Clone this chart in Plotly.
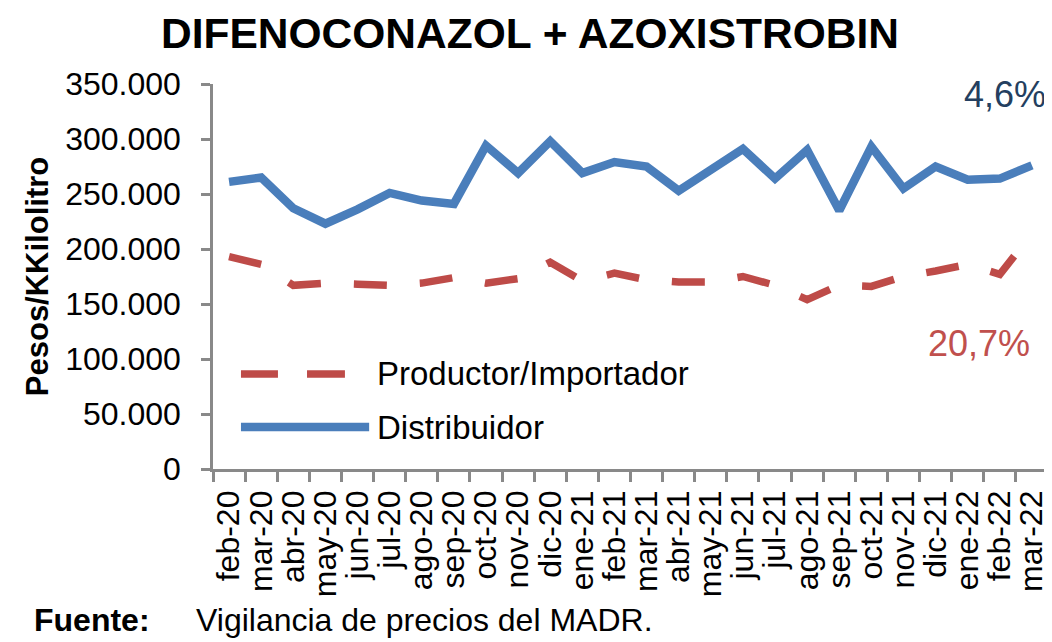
import plotly.graph_objects as go

months = ["feb-20", "mar-20", "abr-20", "may-20", "jun-20", "jul-20", "ago-20", "sep-20",
          "oct-20", "nov-20", "dic-20", "ene-21", "feb-21", "mar-21", "abr-21", "may-21",
          "jun-21", "jul-21", "ago-21", "sep-21", "oct-21", "nov-21", "dic-21", "ene-22",
          "feb-22", "mar-22"]

distribuidor = [261000, 265000, 237000, 223000, 236000, 251000, 244000, 241000,
                294000, 269000, 298000, 269000, 279000, 275000, 253000, 272000,
                291000, 264000, 290000, 235000, 293000, 255000, 275000, 263000,
                264000, 276000]

productor = [193000, 186000, 167000, 169000, 168000, 167000, 169000, 174000,
             169000, 173000, 188000, 171000, 178000, 172000, 170000, 170000,
             175000, 167000, 154000, 167000, 166000, 175000, 180000, 186000,
             177000, 214000]

y_ticks = [0, 50000, 100000, 150000, 200000, 250000, 300000, 350000]

BLUE = "#4A7EBB"
RED = "#BE4B48"
GREY = "#898989"
FONT = "Liberation Sans, Arial, sans-serif"

fig = go.Figure()
fig.add_trace(go.Scatter(x=months, y=productor, mode="lines", name="Productor/Importador",
                         line=dict(color=RED, width=7.5, dash="33px,33px"), showlegend=False))
fig.add_trace(go.Scatter(x=months, y=distribuidor, mode="lines", name="Distribuidor",
                         line=dict(color=BLUE, width=8.5), showlegend=False))

# legend drawn manually (long line samples, as in the reference)
shapes = [
    dict(type="line", xref="paper", yref="paper", x0=0.0335, x1=0.0778, y0=0.247, y1=0.247,
         line=dict(color=RED, width=7.5)),
    dict(type="line", xref="paper", yref="paper", x0=0.1126, x1=0.158, y0=0.247, y1=0.247,
         line=dict(color=RED, width=7.5)),
    dict(type="line", xref="paper", yref="paper", x0=0.0335, x1=0.187, y0=0.109, y1=0.109,
         line=dict(color=BLUE, width=8.5)),
]

annotations = [
    dict(text="Productor/Importador", xref="paper", yref="paper", x=0.194, y=0.247,
         xanchor="left", yanchor="middle", showarrow=False, font=dict(size=33, color="black")),
    dict(text="Distribuidor", xref="paper", yref="paper", x=0.194, y=0.109,
         xanchor="left", yanchor="middle", showarrow=False, font=dict(size=33, color="black")),
    dict(text="4,6%", xref="paper", yref="paper", x=1.0, y=0.974,
         xanchor="right", yanchor="middle", showarrow=False, font=dict(size=36, color="#243F60")),
    dict(text="20,7%", xref="paper", yref="paper", x=0.981, y=0.327,
         xanchor="right", yanchor="middle", showarrow=False, font=dict(size=36, color="#C0504D")),
    dict(text="<b>Fuente:</b>", xref="paper", yref="paper", x=-0.217, y=-0.392,
         xanchor="left", yanchor="middle", showarrow=False, font=dict(size=32, color="black")),
    dict(text="Vigilancia de precios del MADR.", xref="paper", yref="paper", x=-0.0228, y=-0.392,
         xanchor="left", yanchor="middle", showarrow=False, font=dict(size=32, color="black")),
]

# the page body has an 8px margin, so the figure is sized/offset to compensate
fig.update_layout(
    width=1044, height=634,
    margin=dict(l=205, r=4, t=76, b=173, autoexpand=False),
    paper_bgcolor="white", plot_bgcolor="white",
    font=dict(family=FONT, size=32, color="black"),
    separators=",.",
    title=dict(text="<b>DIFENOCONAZOL + AZOXISTROBIN</b>", x=0.5, xanchor="center",
               y=0.961, yanchor="middle", font=dict(size=42.5, color="black"), automargin=False),
    shapes=shapes,
    annotations=annotations,
    showlegend=False,
)

fig.update_xaxes(
    type="category", categoryorder="array", categoryarray=months,
    range=[-0.5, len(months) - 0.5], automargin=False,
    tickmode="array", tickvals=months, ticktext=months,
    showline=True, linecolor=GREY, linewidth=2.5,
    ticks="outside", tickson="boundaries", ticklen=10, tickwidth=2.5, tickcolor=GREY,
    tickangle=-90, ticklabelstandoff=6, tickfont=dict(size=32, color="black"),
    showgrid=False, zeroline=False,
)
fig.update_yaxes(
    range=[0, 350000], tickvals=y_ticks, tickformat=",d", automargin=False,
    showline=True, linecolor=GREY, linewidth=2.5,
    ticks="outside", ticklen=9, tickwidth=2.5, tickcolor=GREY,
    ticklabelstandoff=14,
    tickfont=dict(size=32, color="black"),
    title=dict(text="<b>Pesos/KKilolitro</b>", font=dict(size=31, color="black"), standoff=8),
    showgrid=False, zeroline=False,
)

fig.write_html("out.html")
